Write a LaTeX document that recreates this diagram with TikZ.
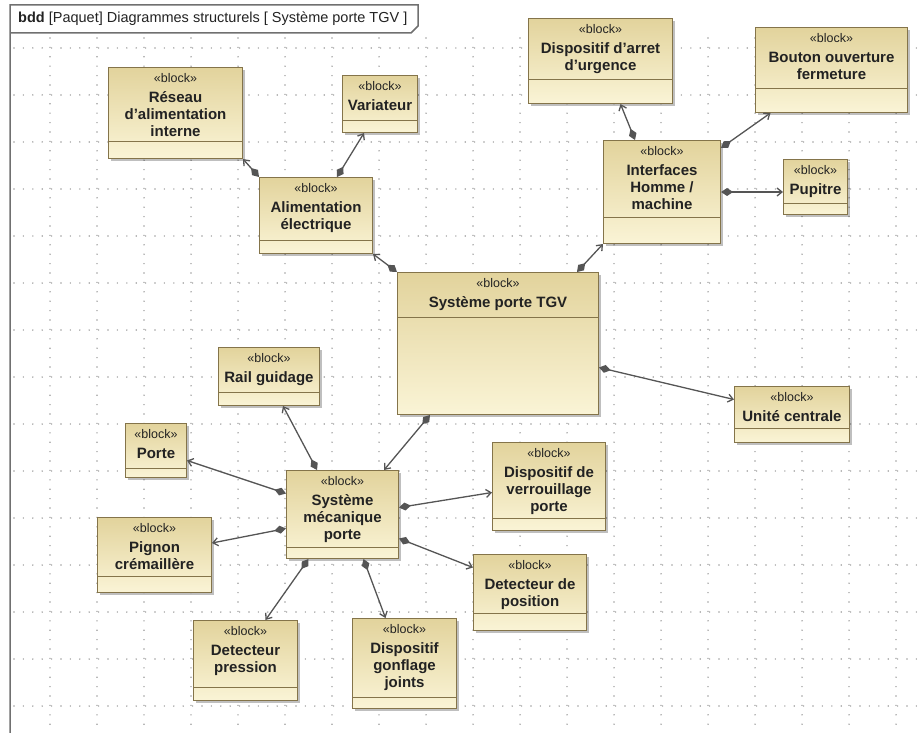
\documentclass[tikz,border=0pt]{standalone}
\usepackage{fontspec}
\setmainfont{Liberation Sans}
\usetikzlibrary{arrows.meta,shadows}
\definecolor{blocktop}{HTML}{E2D39C}
\definecolor{blockbot}{HTML}{FAF4D6}
\definecolor{blockline}{HTML}{84744A}
\definecolor{inkdark}{HTML}{222222}
\definecolor{linkgrey}{HTML}{555555}
\definecolor{gridgrey}{HTML}{A0A0A0}
\definecolor{framegrey}{HTML}{707070}
\newcommand{\namefont}{\bfseries\fontsize{15}{17}\selectfont}
\newcommand{\stereofont}{\mdseries\fontsize{12.5}{14}\selectfont}
\tikzset{
  blockbox/.style  = {draw=blockline, line width=1pt, top color=blocktop, bottom color=blockbot,
                      drop shadow={shadow xshift=2.5pt, shadow yshift=-2.5pt, fill=black, opacity=.25},
                      inner sep=0pt, anchor=north west},
  blocktext/.style = {anchor=north, align=center, inner sep=3pt, yshift=-3pt, text=inkdark, font=\namefont},
  sepline/.style   = {draw=blockline, line width=.9pt},
  compo/.style     = {{Straight Barb[length=5pt,width=8pt]}-{Diamond[length=12pt,width=8pt]},
                      draw=linkgrey, line width=1.3pt},
  gridline/.style  = {draw=gridgrey, line width=1.6pt, line cap=round, dash pattern=on 0pt off 9.4pt},
  titletext/.style = {anchor=west, inner sep=0pt, text=inkdark, font=\fontsize{14.5}{16}\selectfont},
}
% name, x, y (north west), width, height, separator depth, text
\newcommand{\umlblock}[7]{%
  \node[blockbox, minimum width=#4pt, minimum height=#5pt] (#1) at (#2,#3) {};
  \node[blocktext] (#1-txt) at (#1.north) {{\stereofont «block»}\\[3pt]#7};
  \draw[sepline] ([yshift=-#6pt]#1.north west) -- ([yshift=-#6pt]#1.north east);
}

\begin{document}
\begin{tikzpicture}[x=1pt,y=-1pt]
  \useasboundingbox (0,0) rectangle (919,733);
  % grid
  \foreach \gx in {50,97,...,896}
    \draw[gridline] (\gx,38) -- (\gx,733);
  \foreach \gy in {48,95,...,706}
    \draw[gridline] (14,\gy) -- (919,\gy);
  % frame and title tab
  \draw[framegrey, line width=1.5pt] (10,733) -- (10,5) -- (418,5) -- (418,26) -- (411,33) -- (10,33);
  \node[titletext] (title) at (18,19) {\textbf{bdd} [Paquet] Diagrammes structurels [ Système porte TGV ]};

  % blocks
  \umlblock{res}{108}{67}{134}{91}{74}{Réseau\\d'alimentation\\interne}
  \umlblock{var}{342}{75}{75}{57}{45}{Variateur}
  \umlblock{alim}{259}{177}{113}{76}{63}{Alimentation\\électrique}
  \umlblock{arret}{528}{18}{144}{85}{61}{Dispositif d'arret\\d'urgence}
  \umlblock{bouton}{755}{27}{152}{85}{61}{Bouton ouverture\\fermeture}
  \umlblock{ihm}{603}{140}{117}{103}{77}{Interfaces\\Homme /\\machine}
  \umlblock{pup}{783}{159}{64}{55}{44}{Pupitre}
  \umlblock{tgv}{397}{272}{201}{142}{45}{Système porte TGV}
  \umlblock{uc}{734}{386}{115}{56}{42}{Unité centrale}
  \umlblock{rail}{218}{347}{101}{58}{45}{Rail guidage}
  \umlblock{porte}{125}{423}{61}{54}{45}{Porte}
  \umlblock{pignon}{97}{517}{114}{75}{59}{Pignon\\crémaillère}
  \umlblock{meca}{286}{470}{112}{88}{77}{Système\\mécanique\\porte}
  \umlblock{verrou}{492}{442}{113}{88}{76}{Dispositif de\\verrouillage\\porte}
  \umlblock{detpos}{473}{554}{113}{76}{59}{Detecteur de\\position}
  \umlblock{gonfl}{352}{618}{104}{90}{79}{Dispositif\\gonflage\\joints}
  \umlblock{detpres}{193}{620}{104}{80}{67}{Detecteur\\pression}

  % composition links
  \draw[compo] (res.south east) -- (alim.north west);
  \draw[compo] ([xshift=-16pt]var.south) -- ([xshift=21pt]alim.north);
  \draw[compo] (alim.south east) -- (tgv.north west);
  \draw[compo] (ihm.south west) -- ([xshift=-22pt]tgv.north east);
  \draw[compo] ([xshift=20pt]arret.south) -- ([xshift=-27pt]ihm.north);
  \draw[compo] ([xshift=-61pt]bouton.south) -- ([yshift=-8pt]ihm.north east);
  \draw[compo] (ihm.east -| pup.west) -- (ihm.east);
  \draw[compo] ([yshift=15pt]uc.west) -- ([yshift=-24pt]tgv.east);
  \draw[compo] ([xshift=-15pt]meca.north east) -- ([xshift=33pt]tgv.south west);
  \draw[compo] ([xshift=14pt]rail.south) -- ([xshift=31pt]meca.north west);
  \draw[compo] ([yshift=-10pt]porte.east) -- ([yshift=21pt]meca.west);
  \draw[compo] ([yshift=12pt]pignon.east) -- ([yshift=-14pt]meca.west);
  \draw[compo] ([yshift=-6pt]verrou.west) -- ([yshift=7pt]meca.east);
  \draw[compo] ([yshift=25pt]detpos.west) -- ([yshift=-24pt]meca.east);
  \draw[compo] ([xshift=-19pt]gonfl.north) -- ([xshift=21pt]meca.south);
  \draw[compo] ([xshift=20pt]detpres.north) -- ([xshift=-34pt]meca.south);
\end{tikzpicture}
\end{document}
